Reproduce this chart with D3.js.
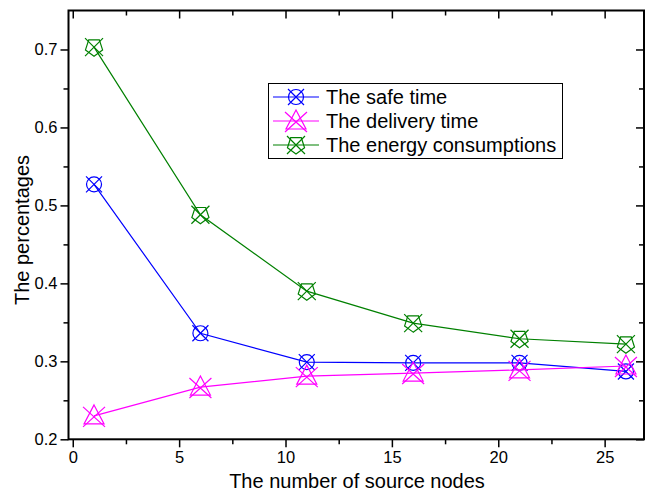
<!DOCTYPE html>
<html>
<head>
<meta charset="utf-8">
<script src="https://cdn.jsdelivr.net/npm/d3@7"></script>
<style>
  body { margin: 0; background: #fff; }
  svg { font-family: "Liberation Sans", Arial, sans-serif; }
</style>
</head>
<body>
<svg id="chart"></svg>
<script>
const nodes = [1, 6, 11, 16, 21, 26];
const safeTime = [0.527, 0.336, 0.299, 0.298, 0.298, 0.287];
const deliveryTime = [0.230, 0.267, 0.281, 0.285, 0.289, 0.294];
const energy = [0.703, 0.488, 0.390, 0.349, 0.329, 0.322];

const xTicks = [0, 5, 10, 15, 20, 25];
const yTicks = [0.2, 0.3, 0.4, 0.5, 0.6, 0.7];

const series = [
  {name: 'The safe time', values: safeTime, color: '#0000ff', symbol: 'circle'},
  {name: 'The delivery time', values: deliveryTime, color: '#ff00ff', symbol: 'triangle'},
  {name: 'The energy consumptions', values: energy, color: '#008000', symbol: 'pentagon'}
];

const W = 645, H = 494;
const pLeft = 68.5, pRight = 644, pTop = 10.5, pBottom = 439.3;

const svg = d3.select('#chart')
  .attr('width', W)
  .attr('height', H);

const x = d3.scaleLinear()
  .domain([-0.2, 26.85])
  .range([pLeft, pRight]);

const y = d3.scaleLinear()
  .domain([0.2, 0.75])
  .range([pBottom, pTop]);

const minorX = d3.range(0, 27, 2.5).filter(v => v % 5 !== 0);
const minorY = d3.range(0.25, 0.75, 0.1);

function styleAxis(g) {
  g.select('.domain').remove();
  g.selectAll('line').attr('stroke', '#000').attr('stroke-width', 1.5);
  g.selectAll('text').style('font-size', '16.5px').attr('fill', '#000');
}

// bottom
svg.append('g')
  .attr('transform', `translate(0, ${pBottom})`)
  .call(d3.axisBottom(x).tickValues(xTicks).tickSize(8).tickPadding(4).tickFormat(d3.format('d')))
  .call(styleAxis);
svg.append('g')
  .attr('transform', `translate(0, ${pBottom})`)
  .call(d3.axisBottom(x).tickValues(minorX).tickSize(5).tickFormat(''))
  .call(styleAxis);

// top (ticks inward)
svg.append('g')
  .attr('transform', `translate(0, ${pTop})`)
  .call(d3.axisBottom(x).tickValues(xTicks).tickSize(8).tickFormat(''))
  .call(styleAxis);
svg.append('g')
  .attr('transform', `translate(0, ${pTop})`)
  .call(d3.axisBottom(x).tickValues(minorX).tickSize(5).tickFormat(''))
  .call(styleAxis);

// left
svg.append('g')
  .attr('transform', `translate(${pLeft}, 0)`)
  .call(d3.axisLeft(y).tickValues(yTicks).tickSize(8).tickPadding(3).tickFormat(d3.format('.1f')))
  .call(styleAxis);
svg.append('g')
  .attr('transform', `translate(${pLeft}, 0)`)
  .call(d3.axisLeft(y).tickValues(minorY).tickSize(5).tickFormat(''))
  .call(styleAxis);

// right (ticks inward)
svg.append('g')
  .attr('transform', `translate(${pRight}, 0)`)
  .call(d3.axisLeft(y).tickValues(yTicks).tickSize(8).tickFormat(''))
  .call(styleAxis);
svg.append('g')
  .attr('transform', `translate(${pRight}, 0)`)
  .call(d3.axisLeft(y).tickValues(minorY).tickSize(5).tickFormat(''))
  .call(styleAxis);

// frame
svg.append('rect')
  .attr('x', pLeft)
  .attr('y', pTop)
  .attr('width', pRight - pLeft)
  .attr('height', pBottom - pTop)
  .attr('fill', 'none')
  .attr('stroke', '#000')
  .attr('stroke-width', 2);

svg.append('text')
  .attr('x', 357)
  .attr('y', 488)
  .attr('text-anchor', 'middle')
  .style('font-size', '20px')
  .text('The number of source nodes');

svg.append('text')
  .attr('transform', 'rotate(-90)')
  .attr('x', -230)
  .attr('y', 29)
  .attr('text-anchor', 'middle')
  .style('font-size', '20px')
  .text('The percentages');

function drawSymbol(g, type, cx, cy, color) {
  const s = g.append('g')
    .attr('transform', `translate(${cx}, ${cy})`)
    .attr('fill', 'none')
    .attr('stroke', color)
    .attr('stroke-width', 1.2);
  if (type === 'circle') {
    s.append('circle').attr('r', 7.5);
    s.append('path').attr('d', 'M-8,-8L8,8M-8,8L8,-8');
  } else if (type === 'triangle') {
    s.append('path').attr('d', 'M0,-11L10,8L-10,8Z');
    s.append('path').attr('d', 'M-11,-9L11,11M-11,11L11,-9');
  } else {
    const pts = d3.range(5).map(i => {
      const a = -Math.PI / 2 + i * 2 * Math.PI / 5 + Math.PI;
      return [9 * Math.cos(a), 9 * Math.sin(a)];
    });
    s.append('path').attr('d', 'M' + pts.map(p => p.join(',')).join('L') + 'Z');
    s.append('path').attr('d', 'M-9,-9L9,9M-9,9L9,-9');
  }
}

series.forEach(sr => {
  const pts = nodes.map((n, i) => [n, sr.values[i]]);
  const line = d3.line()
    .x(d => x(d[0]))
    .y(d => y(d[1]));
  svg.append('path')
    .datum(pts)
    .attr('fill', 'none')
    .attr('stroke', sr.color)
    .attr('stroke-width', 1.2)
    .attr('d', line);
  const g = svg.append('g');
  pts.forEach(d => drawSymbol(g, sr.symbol, x(d[0]), y(d[1]), sr.color));
});

// legend
const legend = svg.append('g');
legend.append('rect')
  .attr('x', 268.5)
  .attr('y', 83.5)
  .attr('width', 294)
  .attr('height', 75)
  .attr('fill', '#fff')
  .attr('stroke', '#000')
  .attr('stroke-width', 1);

series.forEach((sr, i) => {
  const ly = 97 + i * 24;
  legend.append('line')
    .attr('x1', 273)
    .attr('x2', 319)
    .attr('y1', ly)
    .attr('y2', ly)
    .attr('stroke', sr.color)
    .attr('stroke-width', 1.2);
  drawSymbol(legend, sr.symbol, 296, ly, sr.color);
  legend.append('text')
    .attr('x', 326)
    .attr('y', ly + 7)
    .style('font-size', '20px')
    .text(sr.name);
});
</script>
</body>
</html>
